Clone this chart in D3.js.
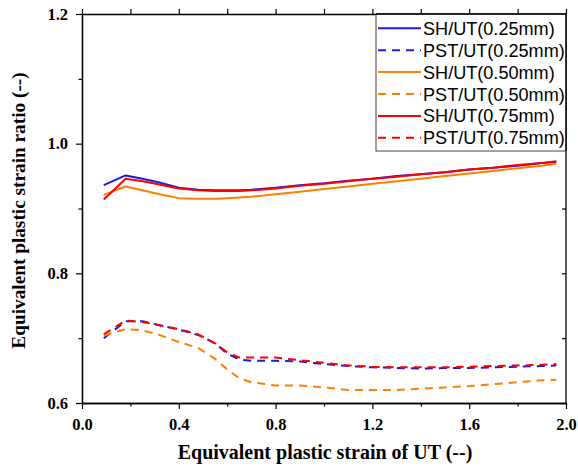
<!DOCTYPE html>
<html>
<head>
<meta charset="utf-8">
<script src="https://cdn.jsdelivr.net/npm/d3@7"></script>
<style>
  html, body { margin: 0; padding: 0; background: #fff; }
  svg { display: block; }
</style>
</head>
<body>
<svg id="chart" width="578" height="470"></svg>
<script>
// ---- data ----
const strainUT = [0.09, 0.18, 0.25, 0.32, 0.40, 0.48, 0.55, 0.60, 0.65, 0.70, 0.80, 0.90, 1.00, 1.10, 1.20, 1.30, 1.40, 1.50, 1.60, 1.70, 1.80, 1.90, 1.96];

const shUT025  = [0.936, 0.951, 0.946, 0.940, 0.932, 0.929, 0.928, 0.928, 0.928, 0.929, 0.932, 0.936, 0.939, 0.943, 0.946, 0.950, 0.953, 0.956, 0.960, 0.963, 0.966, 0.970, 0.972];
const pstUT025 = [0.700, 0.726, 0.726, 0.720, 0.713, 0.705, 0.692, 0.676, 0.667, 0.665, 0.665, 0.664, 0.660, 0.657, 0.655, 0.654, 0.653, 0.654, 0.654, 0.655, 0.656, 0.657, 0.658];
const shUT050  = [0.921, 0.934, 0.928, 0.922, 0.916, 0.915, 0.915, 0.916, 0.917, 0.918, 0.922, 0.926, 0.930, 0.934, 0.938, 0.942, 0.946, 0.950, 0.954, 0.958, 0.962, 0.966, 0.969];
const pstUT050 = [0.704, 0.714, 0.712, 0.705, 0.694, 0.685, 0.668, 0.652, 0.638, 0.632, 0.627, 0.627, 0.624, 0.620, 0.620, 0.620, 0.622, 0.624, 0.626, 0.629, 0.632, 0.635, 0.636];
const shUT075  = [0.914, 0.946, 0.942, 0.937, 0.931, 0.928, 0.927, 0.927, 0.927, 0.928, 0.931, 0.935, 0.938, 0.942, 0.946, 0.949, 0.953, 0.956, 0.960, 0.963, 0.967, 0.970, 0.973];
const pstUT075 = [0.706, 0.727, 0.725, 0.720, 0.714, 0.706, 0.692, 0.678, 0.670, 0.670, 0.670, 0.666, 0.662, 0.658, 0.656, 0.655, 0.655, 0.655, 0.656, 0.657, 0.658, 0.659, 0.660];

const seriesNames  = ["SH/UT(0.25mm)", "PST/UT(0.25mm)", "SH/UT(0.50mm)", "PST/UT(0.50mm)", "SH/UT(0.75mm)", "PST/UT(0.75mm)"];
const seriesValues = [shUT025, pstUT025, shUT050, pstUT050, shUT075, pstUT075];
const seriesColors = ["#1c1ce0", "#1c1ce0", "#ff8000", "#ff8000", "#ff0000", "#ff0000"];
const seriesDashed = [false, true, false, true, false, true];

const xMajorTicks = [0.0, 0.4, 0.8, 1.2, 1.6, 2.0];
const xMinorTicks = [0.2, 0.6, 1.0, 1.4, 1.8];
const yMajorTicks = [0.6, 0.8, 1.0, 1.2];
const yMinorTicks = [0.7, 0.9, 1.1];
const xTitle = "Equivalent plastic strain of UT (--)";
const yTitle = "Equivalent plastic strain ratio (--)";

// ---- layout ----
const L = 82, R = 566, T = 14, B = 403;
const svg = d3.select("#chart");
const x = d3.scaleLinear().domain([0, 2]).range([L, R]);
const y = d3.scaleLinear().domain([0.6, 1.2]).range([B, T]);

const serif = "'Liberation Serif', 'Times New Roman', serif";
const sans = "'Liberation Sans', Arial, sans-serif";

// ---- lines ----
const line = d3.line().x((d, i) => x(strainUT[i])).y(d => y(d));
const gLines = svg.append("g");
seriesValues.forEach((vals, k) => {
  gLines.append("path")
    .datum(vals)
    .attr("d", line)
    .attr("fill", "none")
    .attr("stroke", seriesColors[k])
    .attr("stroke-width", 2)
    .attr("stroke-dasharray", seriesDashed[k] ? "8,6" : null)
    .attr("stroke-linejoin", "round");
});

// ---- axes ----
function styleAxis(g) {
  g.select(".domain").attr("stroke", "#000").attr("stroke-width", 1.3);
  g.selectAll(".tick line").attr("stroke", "#000").attr("stroke-width", 1.2);
  g.selectAll("text").attr("fill", "#000").attr("font-family", serif)
    .attr("font-weight", "bold").attr("font-size", 16.5);
}
const fmt = d3.format(".1f");

// bottom
svg.append("g").attr("transform", `translate(0,${B})`)
  .call(d3.axisBottom(x).tickValues(xMajorTicks).tickFormat(fmt).tickSize(6).tickPadding(9.3).tickSizeOuter(0))
  .call(styleAxis);
svg.append("g").attr("transform", `translate(0,${B})`)
  .call(d3.axisBottom(x).tickValues(xMinorTicks).tickFormat("").tickSize(3.5).tickSizeOuter(0))
  .call(styleAxis);
// left
svg.append("g").attr("transform", `translate(${L},0)`)
  .call(d3.axisLeft(y).tickValues(yMajorTicks).tickFormat(fmt).tickSize(6).tickPadding(8).tickSizeOuter(0))
  .call(styleAxis);
svg.append("g").attr("transform", `translate(${L},0)`)
  .call(d3.axisLeft(y).tickValues(yMinorTicks).tickFormat("").tickSize(3.5).tickSizeOuter(0))
  .call(styleAxis);
// top (outward ticks)
svg.append("g").attr("transform", `translate(0,${T})`)
  .call(d3.axisTop(x).tickValues(xMajorTicks.concat(xMinorTicks)).tickFormat("").tickSize(5).tickSizeOuter(0))
  .call(styleAxis);
// right (inward ticks)
svg.append("g").attr("transform", `translate(${R},0)`)
  .call(d3.axisLeft(y).tickValues(yMajorTicks.concat(yMinorTicks)).tickFormat("").tickSize(4).tickSizeOuter(0))
  .call(g => { styleAxis(g); g.select(".domain").remove(); });
svg.append("line").attr("x1", R).attr("x2", R).attr("y1", T).attr("y2", B)
  .attr("stroke", "#000").attr("stroke-width", 1.3);

// ---- titles ----
svg.append("text")
  .attr("x", (L + R) / 2 + 1).attr("y", 459)
  .attr("text-anchor", "middle")
  .attr("font-family", serif).attr("font-weight", "bold").attr("font-size", 20)
  .text(xTitle);
svg.append("text")
  .attr("transform", `translate(25,${(T + B) / 2 + 2}) rotate(-90)`)
  .attr("text-anchor", "middle")
  .attr("font-family", serif).attr("font-weight", "bold").attr("font-size", 19.3)
  .text(yTitle);

// ---- legend ----
const lg = svg.append("g");
lg.append("rect").attr("x", 376).attr("y", T).attr("width", R - 376).attr("height", 151 - T)
  .attr("fill", "#fff").attr("stroke", "#444").attr("stroke-width", 1);
seriesNames.forEach((name, k) => {
  const cy = 28.3 + k * 21.9;
  lg.append("line").attr("x1", 378).attr("x2", 421).attr("y1", cy).attr("y2", cy)
    .attr("stroke", seriesColors[k]).attr("stroke-width", 2)
    .attr("stroke-dasharray", seriesDashed[k] ? "8,6" : null);
  lg.append("text").attr("x", 423).attr("y", cy).attr("dy", "0.36em")
    .attr("font-family", sans).attr("font-size", 18.1).attr("fill", "#000")
    .text(name);
});
// redraw right frame edge over legend
svg.append("line").attr("x1", R).attr("x2", R).attr("y1", T).attr("y2", 151)
  .attr("stroke", "#000").attr("stroke-width", 1.3);
svg.append("line").attr("x1", 376).attr("x2", R).attr("y1", T).attr("y2", T)
  .attr("stroke", "#000").attr("stroke-width", 1.3);
</script>
</body>
</html>
